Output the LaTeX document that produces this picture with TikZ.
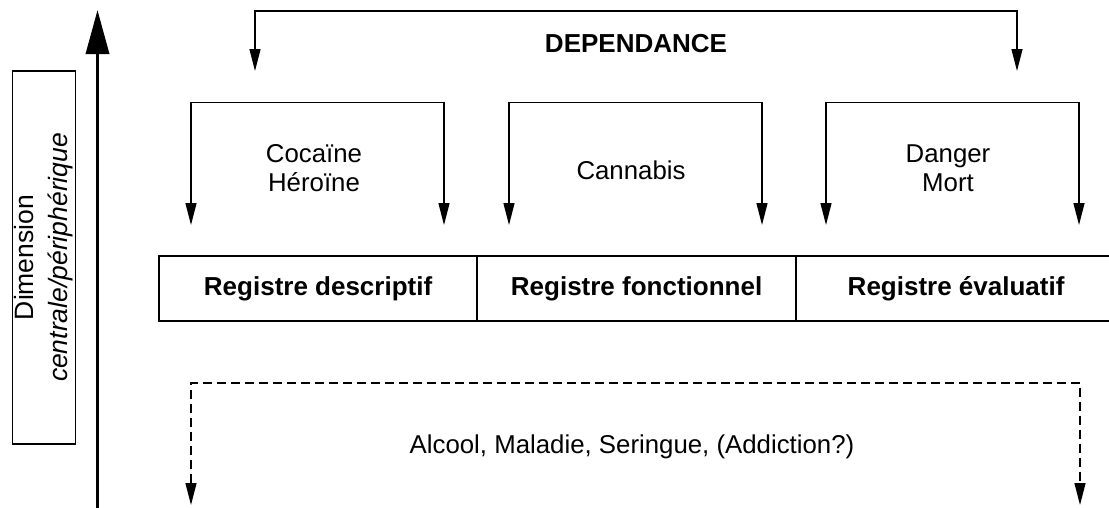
\documentclass[tikz,border=0pt]{standalone}
\usepackage{fontspec}
\setmainfont{Liberation Sans}
\usetikzlibrary{arrows.meta}
\begin{document}
\begin{tikzpicture}[x=1pt,y=-1pt,
  brk/.style={line width=1.3pt, line join=miter,
    {Triangle[length=22pt,width=11pt]}-{Triangle[length=22pt,width=11pt]}},
  dsh/.style={brk, dash pattern=on 9pt off 5pt},
  reg/.style={draw, line width=2.2pt, minimum height=65pt, inner sep=0pt,
    anchor=north west, font=\fontsize{26}{30}\selectfont\bfseries},
  lbl/.style={inner sep=0pt, font=\fontsize{25.8}{29}\selectfont},
  lbl2/.style={lbl, align=center}
]
\useasboundingbox (0,0) rectangle (1109,507);
\fill[white] (0,0) rectangle (1109,507);

% vertical axis
\coordinate (axb) at (97.5,512);
\coordinate (axt) at (97.5,10);
\draw[line width=3.5pt, -{Triangle[length=44pt,width=23pt]}] (axb) -- (axt);

% dimension box
\node[draw, line width=1.5pt, rotate=90, minimum width=373pt, minimum height=63pt,
  inner sep=0pt, align=center, font=\fontsize{26.5}{34}\selectfont] (dim) at (44,257.5)
  {Dimension\\\textit{centrale/périphérique}};

% register boxes
\node[reg, minimum width=318pt] (r1) at (158,255) {Registre descriptif};
\node[reg, minimum width=319pt] (r2) at (476,255) {Registre fonctionnel};
\node[reg, minimum width=320pt] (r3) at (795,255) {Registre évaluatif};

% DEPENDANCE bracket
\coordinate (d1) at (255,71);
\coordinate (d2) at (255,11);
\coordinate (d3) at (1017,11);
\coordinate (d4) at (1017,71);
\draw[brk] (d1) -- (d2) -- (d3) -- (d4);
\node[lbl, font=\fontsize{26}{30}\selectfont\bfseries] (dep) at (636,43.5) {DEPENDANCE};

% bracket 1
\coordinate (a1) at (191,225);
\coordinate (a2) at (191,102.5);
\coordinate (a3) at (444,102.5);
\coordinate (a4) at (444,225);
\draw[brk] (a1) -- (a2) -- (a3) -- (a4);
\node[lbl2] (coc) at (314,168) {Cocaïne\\Héroïne};

% bracket 2
\coordinate (b1) at (509,225);
\coordinate (b2) at (509,102.5);
\coordinate (b3) at (762,102.5);
\coordinate (b4) at (762,225);
\draw[brk] (b1) -- (b2) -- (b3) -- (b4);
\node[lbl] (can) at (631,170) {Cannabis};

% bracket 3
\coordinate (c1) at (826,225);
\coordinate (c2) at (826,102.5);
\coordinate (c3) at (1079,102.5);
\coordinate (c4) at (1079,225);
\draw[brk] (c1) -- (c2) -- (c3) -- (c4);
\node[lbl2] (dan) at (948,168) {Danger\\Mort};

% dashed bracket
\coordinate (e1) at (191,505);
\coordinate (e2) at (191,383);
\coordinate (e3) at (1080,383);
\coordinate (e4) at (1080,505);
\draw[dsh] (e1) -- (e2) -- (e3) -- (e4);
\node[lbl, anchor=base] (alc) at (632,453) {Alcool, Maladie, Seringue, (Addiction?)};
\end{tikzpicture}
\end{document}
